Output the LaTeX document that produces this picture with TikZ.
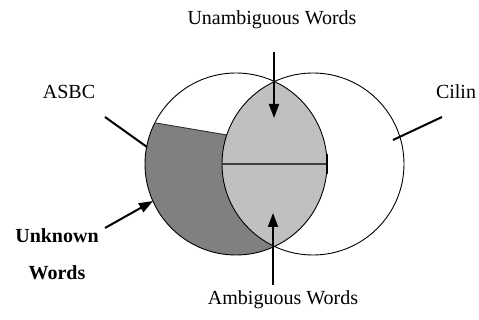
\documentclass[tikz,border=0pt]{standalone}
\usepackage{fontspec}
\setmainfont{Liberation Serif}
\usetikzlibrary{arrows.meta}
\definecolor{lightg}{HTML}{C0C0C0}
\definecolor{darkg}{HTML}{808080}
\begin{document}
\begin{tikzpicture}[x=1pt,y=-1pt,
  lbl/.style={font=\fontsize{20}{24}\selectfont, inner sep=0pt},
  blbl/.style={font=\fontsize{20}{24}\selectfont\bfseries, inner sep=0pt},
  ptr/.style={line width=2pt, -{Triangle[length=14pt,width=10pt]}},
  tick/.style={line width=2pt},
  outline/.style={line width=0.9pt, black}]
\useasboundingbox (0,0) rectangle (479,320);
% coordinates
\coordinate (cl) at (236,164);
\coordinate (cr) at (313,164);
% dark region (left circle below separating line)
\begin{scope}
  \clip (cl) circle[radius=91];
  \fill[darkg] (100,113.5) -- (340,154) -- (340,300) -- (100,300) -- cycle;
\end{scope}
% lens
\begin{scope}
  \clip (cl) circle[radius=91];
  \fill[lightg] (cr) circle[radius=91];
\end{scope}
% separating line of dark region
\coordinate (s1) at (156,123);
\coordinate (s2) at (227,135);
\draw[line width=0.9pt, black!80] (s1) -- (s2);
% horizontal line inside lens
\coordinate (h1) at (222,164);
\coordinate (h2) at (327,164);
\draw[line width=1.2pt, black!75] (h1) -- (h2);
\coordinate (t1) at (327,154);
\coordinate (t2) at (327,174);
\draw[line width=1.6pt] (t1) -- (t2);
% circles
\draw[outline] (cl) circle[radius=91];
\draw[outline] (cr) circle[radius=91];
% labels
\node[lbl] (unamb) at (272,20) {Unambiguous Words};
\node[lbl] (amb) at (283,300) {Ambiguous Words};
\node[lbl] (asbc) at (69,92) {ASBC};
\node[lbl] (cilin) at (456,92) {Cilin};
\node[blbl] (unk) at (57,236) {Unknown};
\node[blbl] (wrd) at (57,273) {Words};
% arrows and leader lines
\coordinate (ua) at (274,52);
\coordinate (ub) at (274,118);
\draw[ptr] (ua) -- (ub);
\coordinate (aa) at (273,285);
\coordinate (ab) at (273,213);
\draw[ptr] (aa) -- (ab);
\coordinate (la) at (105,117);
\coordinate (lb) at (147,147);
\draw[tick] (la) -- (lb);
\coordinate (ca) at (442,117);
\coordinate (cb) at (393,140);
\draw[tick] (ca) -- (cb);
\coordinate (ka) at (105,228);
\coordinate (kb) at (153,201);
\draw[ptr] (ka) -- (kb);
\end{tikzpicture}
\end{document}
